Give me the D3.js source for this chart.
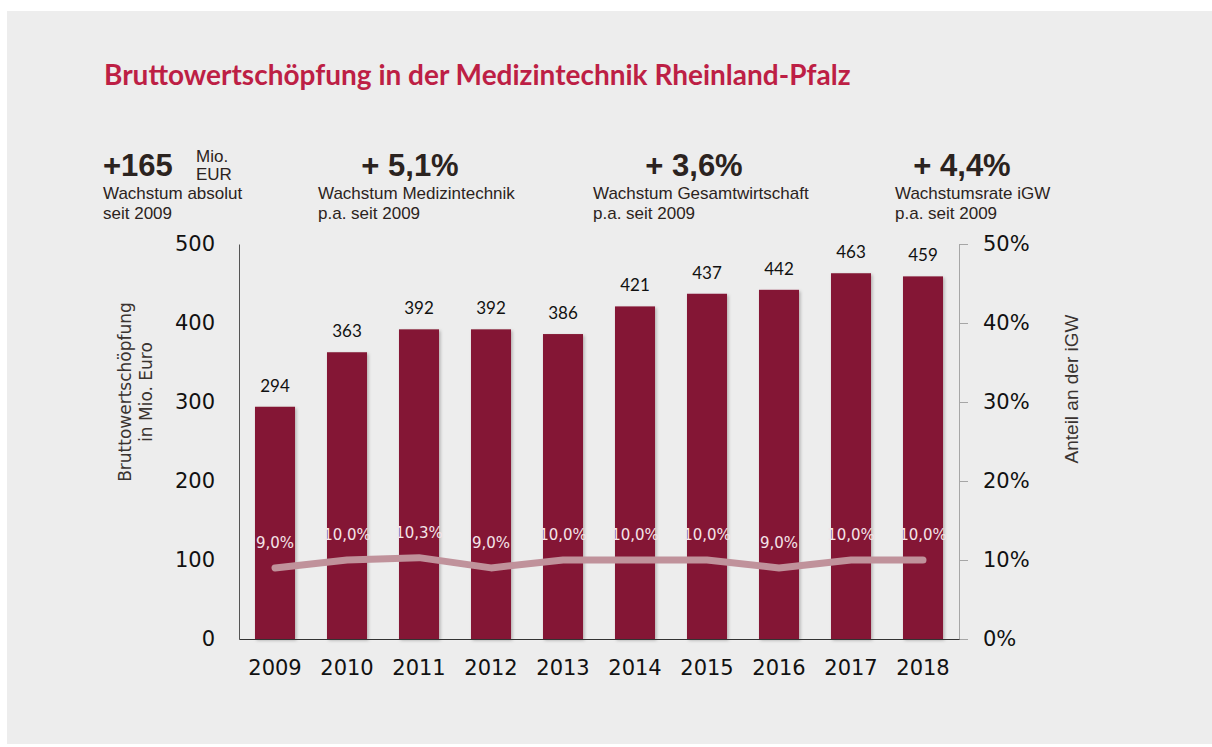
<!DOCTYPE html>
<html>
<head>
<meta charset="utf-8">
<script src="https://cdn.jsdelivr.net/npm/d3@7"></script>
<style>
  body { margin: 0; background: #fff; }
  svg { display: block; }
  .tick-label { font-family: "DejaVu Sans", Verdana, sans-serif; font-size: 21px; fill: #111; }
  .stat-big { font-family: "Liberation Sans", Arial, sans-serif; font-weight: bold; font-size: 31px; fill: #2b2320; }
  .stat-small { font-family: "Liberation Sans", Arial, sans-serif; font-size: 17px; fill: #2b2320; }
</style>
</head>
<body>
<svg id="chart" width="1212" height="747"></svg>
<script>
// DATA
const years = ["2009", "2010", "2011", "2012", "2013", "2014", "2015", "2016", "2017", "2018"];
const values = [294, 363, 392, 392, 386, 421, 437, 442, 463, 459];   // Mio. Euro
const shares = [9.0, 10.0, 10.3, 9.0, 10.0, 10.0, 10.0, 9.0, 10.0, 10.0]; // Anteil an der iGW in %
const leftTicks = [0, 100, 200, 300, 400, 500];
const rightTicks = [0, 10, 20, 30, 40, 50];

// header figures
const statNumbers = ["+165", "+ 5,1%", "+ 3,6%", "+ 4,4%"];
const statLines = [
  ["Wachstum absolut", "seit 2009"],
  ["Wachstum Medizintechnik", "p.a. seit 2009"],
  ["Wachstum Gesamtwirtschaft", "p.a. seit 2009"],
  ["Wachstumsrate iGW", "p.a. seit 2009"]
];

const svg = d3.select("#chart");

// panel background
svg.append("rect")
  .attr("x", 7).attr("y", 11)
  .attr("width", 1205).attr("height", 733)
  .attr("fill", "#ededed");

// shadow for bars
const defs = svg.append("defs");
defs.append("filter")
  .attr("id", "shadow")
  .attr("x", "-20%").attr("y", "-5%").attr("width", "140%").attr("height", "110%")
  .append("feDropShadow")
  .attr("dx", 1.5).attr("dy", 1.5).attr("stdDeviation", 1.5)
  .attr("flood-color", "#000").attr("flood-opacity", 0.25);

// title
svg.append("text")
  .attr("x", 104)
  .attr("y", 85)
  .attr("font-family", "Lato, 'Open Sans', sans-serif")
  .attr("font-weight", "bold")
  .attr("font-size", 28)
  .attr("fill", "#bd1f45")
  .text("Bruttowertschöpfung in der Medizintechnik Rheinland-Pfalz");

// header stats
const statBigX = [103, 410, 694, 962];
const statBigAnchor = ["start", "middle", "middle", "middle"];
const statTextX = [103, 318, 593, 895];

statNumbers.forEach((s, i) => {
  svg.append("text")
    .attr("class", "stat-big")
    .attr("x", statBigX[i])
    .attr("y", 176)
    .attr("text-anchor", statBigAnchor[i])
    .text(s);
  statLines[i].forEach((line, j) => {
    svg.append("text")
      .attr("class", "stat-small")
      .attr("x", statTextX[i])
      .attr("y", 199 + j * 20)
      .text(line);
  });
});

// "Mio. EUR" next to +165
svg.append("text").attr("class", "stat-small")
  .attr("x", 196).attr("y", 162).attr("font-size", 14).text("Mio.");
svg.append("text").attr("class", "stat-small")
  .attr("x", 196).attr("y", 180).attr("font-size", 14).text("EUR");

// SCALES
const x = d3.scaleBand()
  .domain(years)
  .range([239, 959])
  .paddingInner(0.444)
  .paddingOuter(0.222);

const y = d3.scaleLinear().domain([0, 500]).range([639, 244]);
const yPct = d3.scaleLinear().domain([0, 50]).range([639, 244]);

// LEFT AXIS
const leftAxis = svg.append("g")
  .attr("transform", "translate(239,0)")
  .call(d3.axisLeft(y).tickValues(leftTicks).tickSize(0).tickPadding(24));
leftAxis.select(".domain").attr("stroke", "#555");
leftAxis.selectAll("text").attr("class", "tick-label").attr("font-size", 21);

// RIGHT AXIS
const rightAxis = svg.append("g")
  .attr("transform", "translate(959,0)")
  .call(d3.axisRight(yPct).tickValues(rightTicks)
    .tickSizeInner(9).tickSizeOuter(0).tickPadding(15)
    .tickFormat(d => d + "%"));
rightAxis.select(".domain").attr("stroke", "#a6a6a6");
rightAxis.selectAll("line").attr("stroke", "#a6a6a6");
rightAxis.selectAll("text").attr("class", "tick-label").attr("font-size", 22);

// BARS
svg.append("g")
  .selectAll("rect")
  .data(years)
  .join("rect")
  .attr("x", d => x(d))
  .attr("y", (d, i) => y(values[i]))
  .attr("width", x.bandwidth())
  .attr("height", (d, i) => y(0) - y(values[i]))
  .attr("fill", "#841834")
  .attr("filter", "url(#shadow)");

// BOTTOM AXIS (drawn over the bars)
const bottomAxis = svg.append("g")
  .attr("transform", "translate(0,639)")
  .call(d3.axisBottom(x).tickSize(0).tickSizeOuter(0));
bottomAxis.select(".domain").attr("stroke", "#333");
bottomAxis.selectAll("text")
  .attr("class", "tick-label")
  .attr("y", 36)
  .attr("dy", 0)
  .attr("font-size", 21);

// bar value labels
svg.append("g")
  .selectAll("text")
  .data(years)
  .join("text")
  .attr("x", d => x(d) + x.bandwidth() / 2)
  .attr("y", (d, i) => y(values[i]) - 15)
  .attr("text-anchor", "middle")
  .attr("font-family", "Lato, 'Open Sans', sans-serif")
  .attr("font-size", 17)
  .attr("fill", "#111")
  .text((d, i) => values[i]);

// LINE (share of iGW)
const line = d3.line()
  .x(d => x(d) + x.bandwidth() / 2)
  .y((d, i) => yPct(shares[i]));

svg.append("path")
  .datum(years)
  .attr("d", line)
  .attr("fill", "none")
  .attr("stroke", "#c0929b")
  .attr("stroke-width", 7)
  .attr("stroke-linecap", "round")
  .attr("stroke-linejoin", "round");

const fmtPct = v => d3.format(".1f")(v).replace(".", ",") + "%";

svg.append("g")
  .selectAll("text")
  .data(years)
  .join("text")
  .attr("x", d => x(d) + x.bandwidth() / 2)
  .attr("y", (d, i) => yPct(shares[i]) - 20)
  .attr("text-anchor", "middle")
  .attr("font-family", "'DejaVu Sans', Verdana, sans-serif")
  .attr("font-size", 15)
  .attr("fill", "#f4e4e8")
  .text((d, i) => fmtPct(shares[i]));

// AXIS TITLES
const leftTitle = svg.append("text")
  .attr("transform", "translate(126,392) rotate(-90)")
  .attr("text-anchor", "middle")
  .attr("font-family", "'DejaVu Sans', Verdana, sans-serif")
  .attr("font-size", 17)
  .attr("fill", "#3a3330");
leftTitle.append("tspan").attr("x", 0).attr("y", 5).text("Bruttowertschöpfung");
leftTitle.append("tspan").attr("x", 0).attr("y", 26).text("in Mio. Euro");

svg.append("text")
  .attr("transform", "translate(1078,389) rotate(-90)")
  .attr("text-anchor", "middle")
  .attr("font-family", "'Liberation Sans', Arial, sans-serif")
  .attr("font-size", 19)
  .attr("fill", "#3a3330")
  .text("Anteil an der iGW");
</script>
</body>
</html>
